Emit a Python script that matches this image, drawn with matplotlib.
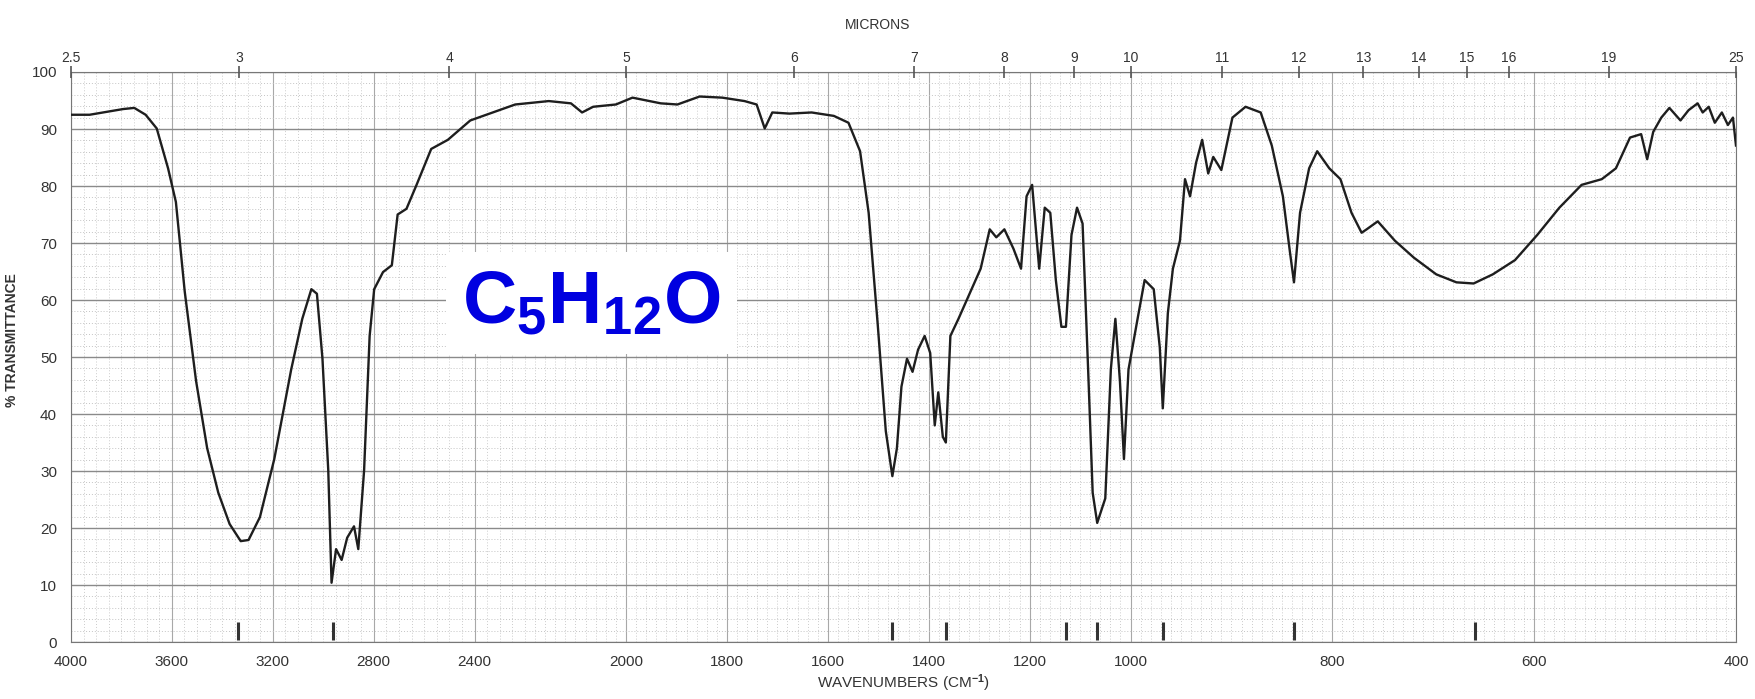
import numpy as np
import matplotlib
matplotlib.use('Agg')
import matplotlib.pyplot as plt

# IR spectrum: wavenumber (cm-1) and % transmittance
wavenumber = [4000, 3926, 3860, 3793, 3749, 3704, 3660, 3615, 3584, 3549,
              3504, 3460, 3416, 3371, 3327, 3296, 3251, 3194, 3127, 3083,
              3047, 3025, 3003, 2980, 2967, 2949, 2927, 2905, 2878, 2861,
              2838, 2816, 2798, 2763, 2728, 2705, 2670, 2630, 2572, 2506,
              2417, 2328, 2239, 2153, 2109, 2087, 2065, 2020, 1987, 1931,
              1898, 1854, 1809, 1765, 1741, 1725, 1710, 1676, 1632, 1588,
              1559, 1536, 1519, 1501, 1485, 1472, 1463, 1454, 1443, 1432,
              1421, 1408, 1397, 1388, 1381, 1372, 1366, 1357, 1341, 1319,
              1297, 1279, 1266, 1250, 1232, 1217, 1206, 1195, 1181, 1170,
              1159, 1148, 1137, 1128, 1117, 1106, 1095, 1084, 1075, 1066,
              1050, 1039, 1030, 1021, 1013, 1004, 993, 986, 977, 971,
              968, 963, 958, 951, 946, 941, 935, 929, 923, 918,
              910, 899, 886, 871, 860, 849, 842, 838, 832, 823,
              815, 803, 792, 781, 771, 766, 755, 738, 719, 697,
              677, 660, 641, 619, 597, 575, 553, 533, 519, 505,
              494, 488, 482, 474, 466, 455, 447, 438, 433, 427,
              421, 414, 408, 403, 400]
transmittance = [92.5, 92.5, 93.0, 93.5, 93.7, 92.5, 90.1, 83.1, 77.2, 61.5,
                 45.8, 34.0, 26.2, 20.7, 17.7, 17.9, 21.9, 32.1, 47.8, 56.7,
                 61.9, 61.1, 49.7, 30.1, 10.4, 16.3, 14.4, 18.3, 20.3, 16.3,
                 30.1, 53.7, 61.9, 64.9, 66.1, 75.0, 76.0, 80.2, 86.5, 88.1,
                 91.5, 92.9, 94.3, 94.9, 94.5, 92.9, 93.9, 94.3, 95.5, 94.5,
                 94.3, 95.7, 95.5, 94.9, 94.3, 90.1, 92.9, 92.7, 92.9, 92.3,
                 91.1, 86.1, 75.3, 55.7, 37.0, 29.1, 34.0, 44.8, 49.7, 47.4,
                 51.3, 53.7, 50.7, 38.0, 43.8, 36.0, 35.0, 53.7, 56.7, 61.1,
                 65.5, 72.4, 71.0, 72.4, 69.0, 65.5, 78.2, 80.2, 65.5, 76.2,
                 75.3, 63.5, 55.3, 55.3, 71.4, 76.2, 73.4, 47.8, 26.2, 20.9,
                 25.2, 47.8, 56.7, 45.8, 32.1, 47.8, 56.7, 63.5, 61.9, 51.7,
                 41.0, 57.7, 65.5, 70.4, 81.2, 78.2, 84.1, 88.1, 82.2, 85.1,
                 82.8, 92.0, 93.9, 92.9, 87.1, 78.2, 68.4, 63.1, 75.3, 83.1,
                 86.1, 83.1, 81.2, 75.3, 71.8, 72.4, 73.8, 70.4, 67.4, 64.5,
                 63.1, 62.9, 64.5, 67.0, 71.4, 76.2, 80.2, 81.2, 83.1, 88.5,
                 89.1, 84.7, 89.5, 92.0, 93.7, 91.5, 93.3, 94.5, 92.9, 93.9,
                 91.1, 92.9, 90.7, 92.0, 87.1]

# peak markers printed along the bottom edge
peak_marks = [3336, 2963, 1472, 1366, 1128, 1066, 968, 838, 659]

x_ticks = [4000, 3600, 3200, 2800, 2400, 2000, 1800, 1600, 1400, 1200, 1000, 800, 600, 400]
y_ticks = [0, 10, 20, 30, 40, 50, 60, 70, 80, 90, 100]
micron_ticks = [2.5, 3, 4, 5, 6, 7, 8, 9, 10, 11, 12, 13, 14, 15, 16, 19, 25]
micron_labels = ['2.5', '3', '4', '5', '6', '7', '8', '9', '10', '11', '12',
                 '13', '14', '15', '16', '19', '25']
formula = r'C$_5$H$_{12}$O'

# chart paper: 4000-2200, 2200-1000 and 1000-400 drawn at 1 : 2 : 4
wn_breaks = [400, 1000, 2200, 4000]
paper_pos = [0, 2400, 4800, 6600]


def fwd(wn):
    return np.interp(wn, wn_breaks, paper_pos)


def inv(p):
    return np.interp(p, paper_pos, wn_breaks)


# microns grow to the right, so run the paper position the other way
def um_fwd(um):
    um = np.clip(np.asarray(um, dtype=float), 1e-3, None)
    return paper_pos[-1] - fwd(1e4 / um)


def um_inv(p):
    return 1e4 / inv(paper_pos[-1] - np.asarray(p, dtype=float))


plt.rcParams['font.family'] = ['Liberation Sans', 'DejaVu Sans']
plt.rcParams['mathtext.fontset'] = 'custom'
plt.rcParams['mathtext.rm'] = 'Liberation Sans:bold'
plt.rcParams['mathtext.it'] = 'Liberation Sans:bold'
plt.rcParams['mathtext.bf'] = 'Liberation Sans:bold'

fig = plt.figure(figsize=(17.56, 6.99), dpi=100)
ax = fig.add_axes([0.0404, 0.0815, 0.9482, 0.8155])
ax.set_xscale('function', functions=(fwd, inv))
ax.set_xlim(4000, 400)
ax.set_ylim(0, 100)

# grid of the chart paper
minor_x = np.concatenate([np.arange(2200, 4001, 50), np.arange(1000, 2200, 20),
                          np.arange(400, 1000, 10)])
ax.set_xticks(x_ticks)
ax.set_xticks(minor_x, minor=True)
ax.set_yticks(y_ticks)
ax.set_yticks(np.arange(0, 101, 2), minor=True)
ax.grid(which='major', axis='y', color='#8a8a8a', lw=1.0)
ax.grid(which='minor', axis='y', color='#c4c4c4', lw=0.7, ls=(0, (1, 2)))
ax.grid(which='major', axis='x', color='#a8a8a8', lw=0.8)
ax.grid(which='minor', axis='x', color='#cccccc', lw=0.7, ls=(0, (1, 2)))
ax.set_axisbelow(True)

ax.plot(wavenumber, transmittance, color='#1e1e1e', lw=1.7, zorder=4)
ax.vlines(peak_marks, 0.4, 3.5, color='#333333', lw=2.2, zorder=4)

ax.text(0.235, 0.56, formula, transform=ax.transAxes, ha='left', va='baseline',
        fontsize=54, fontweight='bold', color='#0000e0', zorder=3,
        bbox=dict(boxstyle='square,pad=0.22', fc='white', ec='none'))

ax.tick_params(axis='both', which='both', length=0, colors='#333333')
ax.tick_params(axis='x', pad=9, labelsize=11)
ax.tick_params(axis='y', pad=10, labelsize=11)
ax.set_xlabel('WAVENUMBERS (CM$^{-1}$)', fontsize=11, color='#333333', labelpad=3)
ax.set_ylabel('% TRANSMITTANCE', fontsize=10, fontweight='bold', color='#333333')
ax.yaxis.set_label_coords(-0.031, 0.53)
for s in ax.spines.values():
    s.set_color('#777777')
    s.set_linewidth(0.8)

# micron scale on top
ax2 = ax.twiny()
ax2.set_xscale('function', functions=(um_fwd, um_inv))
ax2.set_xlim(2.5, 25)
ax2.set_xticks(micron_ticks)
ax2.set_xticklabels(micron_labels)
ax2.xaxis.set_minor_locator(matplotlib.ticker.NullLocator())
ax2.tick_params(axis='x', direction='inout', length=8, width=1.2, color='#555555',
                labelsize=10, labelcolor='#333333', pad=1)
for s in ax2.spines.values():
    s.set_visible(False)

fig.text(0.5, 1 - 25 / 699, 'MICRONS', ha='center', va='center', fontsize=10,
         color='#333333')

fig.savefig('out.png', dpi=100)
